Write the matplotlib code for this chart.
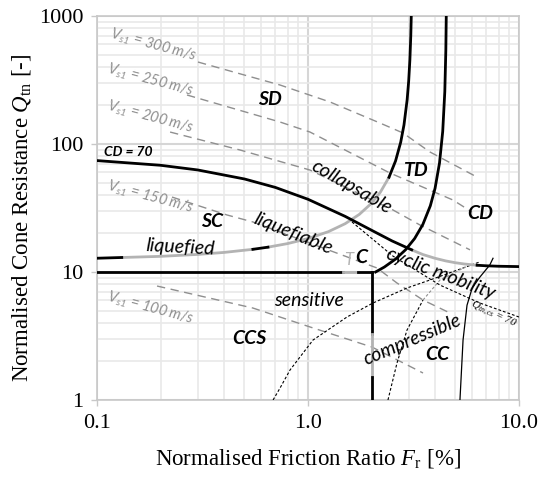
import matplotlib
matplotlib.use('Agg')
import matplotlib.pyplot as plt
from matplotlib.ticker import FixedLocator, FixedFormatter, LogLocator, NullFormatter

plt.rcParams['mathtext.fontset'] = 'custom'
plt.rcParams['mathtext.rm'] = 'Liberation Serif'
plt.rcParams['mathtext.it'] = 'Liberation Serif:italic'
plt.rcParams['mathtext.sf'] = 'Lato:italic'

# ---- boundary curves (Fr [%], Qtn) ----
# CD = 70 line
cd70_fr_a = [0.1, 0.2, 0.3, 0.5, 0.7, 1.0, 1.5, 2.0, 2.5, 3.1]
cd70_q_a = [74.2, 68.2, 62.7, 53.3, 45.8, 37.0, 27.2, 21.2, 17.5, 14.9]
cd70_fr_b = [3.1, 3.5, 4.0, 4.5, 5.0, 5.5, 6.33]
cd70_q_b = [14.9, 13.7, 12.8, 12.2, 11.81, 11.55, 11.29]
cd70_fr_c = [6.33, 7.0, 8.0, 10.0]
cd70_q_c = [11.29, 11.18, 11.09, 11.02]

# IB = 32 (sand-like / transitional)
ib32_fr_a = [0.1, 0.131]
ib32_q_a = [12.81, 12.98]
ib32_fr_b = [0.131, 0.2, 0.3, 0.4, 0.548]
ib32_q_b = [12.98, 13.25, 13.72, 14.22, 15.04]
ib32_fr_c = [0.548, 0.646]
ib32_q_c = [15.04, 15.63]
ib32_fr_d = [0.646, 0.8, 1.0, 1.25, 1.5, 1.75, 2.0, 2.2, 2.42]
ib32_q_d = [15.63, 16.67, 18.24, 20.67, 23.85, 28.18, 34.44, 41.9, 54.96]
ib32_fr_e = [2.42, 2.6, 2.75, 2.85, 2.95, 3.0, 3.04, 3.07, 3.086]
ib32_q_e = [54.96, 73.8, 103.3, 140.9, 221.4, 310, 456, 704.5, 1000]

# IB = 22 (transitional / clay-like)
ib22_fr = [2.09, 2.3, 2.6, 2.9, 3.2, 3.5, 3.8, 4.0, 4.2, 4.35, 4.45, 4.5, 4.521]
ib22_q = [10.0, 10.93, 12.62, 14.92, 18.24, 23.48, 32.93, 45.0, 71.05, 125.6, 257, 540, 1000]

# CCS box
ccs_h_fr_a = [0.1, 1.465]
ccs_h_fr_b = [1.465, 1.726]
ccs_h_fr_c = [1.726, 2.0]
ccs_h_q = [10.0, 10.0]
ccs_v_fr = [2.0, 2.0]
ccs_v_q_a = [10.0, 3.3]
ccs_v_q_b = [3.3, 1.5]
ccs_v_q_c = [1.5, 1.0]

# thin curves
sens_fr = [0.683, 0.737, 0.822, 1.056, 1.53, 2.03, 2.946, 3.786, 6.53]
sens_q = [1.0, 1.24, 1.716, 2.94, 4.45, 5.72, 7.5, 8.66, 12.0]
comp_fr_a = [2.393, 2.641, 2.946, 3.508]
comp_q_a = [1.0, 1.945, 3.52, 6.04]
comp_fr_b = [3.508, 4.223, 5.86]
comp_q_b = [6.04, 8.66, 11.4]
solid_fr = [5.25, 5.43, 5.67, 6.0, 6.53, 7.27, 7.53]
solid_q = [1.0, 2.94, 5.5, 7.5, 9.14, 11.34, 12.8]
qcs70_fr = [1.616, 2.529, 4.223, 6.53, 10.0]
qcs70_q = [24.6, 13.3, 7.9, 5.72, 4.45]

# shear wave velocity lines
vs_values = [300, 250, 200, 150, 100]
vs_fr = [
    [0.301, 0.737, 1.271, 2.19, 2.818, 3.786, 6.19],
    [0.267, 0.737, 1.022, 2.447, 4.866, 5.985],
    [0.222, 0.476, 1.022, 2.529, 3.393, 5.86],
    [0.2267, 0.413, 0.548, 2.123, 2.641, 3.508, 4.71],
    [0.1925, 0.548, 1.022, 2.011, 3.508],
]
vs_q = [
    [437, 289, 213, 146, 122, 86.6, 56.2],
    [241.5, 148.5, 124, 59.3, 36.5, 29.4],
    [124, 89.8, 62.6, 30.5, 23.3, 14.9],
    [38.5, 27.9, 24.6, 10.75, 8.2, 6.04, 4.78],
    [7.77, 5.23, 3.72, 2.59, 1.625],
]
vs_label_fr = [0.184, 0.178, 0.178, 0.178, 0.178]
vs_label_q = [593, 316, 162.5, 38.5, 5.23]

BLACK = 'black'
GRAY = '#b3b3b3'
VS_GRAY = '#8f8f8f'
LW = 2.0

fig = plt.figure(figsize=(5.45, 4.78), dpi=100)
ax = fig.add_axes([0.178, 0.1632, 0.7743, 0.8033])
ax.set_xscale('log')
ax.set_yscale('log')
ax.set_xlim(0.1, 10)
ax.set_ylim(1, 1000)

ax.xaxis.set_major_locator(FixedLocator([0.1, 1, 10]))
ax.xaxis.set_major_formatter(FixedFormatter(['0.1', '1.0', '10.0']))
ax.yaxis.set_major_locator(FixedLocator([1, 10, 100, 1000]))
ax.yaxis.set_major_formatter(FixedFormatter(['1', '10', '100', '1000']))
for axis in (ax.xaxis, ax.yaxis):
    axis.set_minor_locator(LogLocator(base=10, subs=range(2, 10)))
    axis.set_minor_formatter(NullFormatter())
ax.grid(which='major', color='#d6d6d6', lw=1.5, zorder=0)
ax.grid(which='minor', color='#e9e9e9', lw=1.2, zorder=0)
ax.set_axisbelow(True)
for sp in ax.spines.values():
    sp.set_color('#c8c8c8')
    sp.set_linewidth(1.2)
ax.tick_params(which='major', length=4, width=1, color='#c8c8c8', pad=6,
               labelsize=16, labelfontfamily='Liberation Serif')
ax.tick_params(which='minor', length=0)

# Vs1 lines
for fr, q in zip(vs_fr, vs_q):
    ax.plot(fr, q, color=VS_GRAY, lw=1.0, dashes=(6, 4), zorder=2)
for v, fr, q in zip(vs_values, vs_label_fr, vs_label_q):
    ax.text(fr, q, r'$\mathsf{V_{s1}}$ = %d m/s' % v, color=VS_GRAY, fontsize=10.5,
            family='Lato', style='italic', rotation=-15, ha='center', va='center')

# thin curves
ax.plot(sens_fr, sens_q, color=BLACK, lw=0.8, dashes=(2.5, 1.8), zorder=3)
ax.plot(comp_fr_a, comp_q_a, color=BLACK, lw=0.8, dashes=(2.5, 1.8), zorder=3)
ax.plot(comp_fr_b, comp_q_b, color=VS_GRAY, lw=0.8, dashes=(2.5, 1.8), zorder=3)
ax.plot(solid_fr, solid_q, color=BLACK, lw=0.9, zorder=3)
ax.plot(qcs70_fr, qcs70_q, color=BLACK, lw=0.8, dashes=(2.5, 1.8), zorder=3)

# main boundaries
ax.plot(cd70_fr_a, cd70_q_a, color=BLACK, lw=LW, zorder=5)
ax.plot(cd70_fr_b, cd70_q_b, color=GRAY, lw=LW, zorder=4)
ax.plot(cd70_fr_c, cd70_q_c, color=BLACK, lw=LW, zorder=5)
ax.plot(ib32_fr_a, ib32_q_a, color=BLACK, lw=LW, zorder=5)
ax.plot(ib32_fr_b, ib32_q_b, color=GRAY, lw=LW, zorder=4)
ax.plot(ib32_fr_c, ib32_q_c, color=BLACK, lw=LW, zorder=5)
ax.plot(ib32_fr_d, ib32_q_d, color=GRAY, lw=LW, zorder=4)
ax.plot(ib32_fr_e, ib32_q_e, color=BLACK, lw=LW, zorder=5)
ax.plot(ib22_fr, ib22_q, color=BLACK, lw=LW, zorder=5)
ax.plot(ccs_h_fr_a, ccs_h_q, color=BLACK, lw=LW, zorder=5)
ax.plot(ccs_h_fr_b, ccs_h_q, color=GRAY, lw=LW, zorder=5)
ax.plot(ccs_h_fr_c, ccs_h_q, color=BLACK, lw=LW, zorder=5)
ax.plot(ccs_v_fr, ccs_v_q_a, color=BLACK, lw=LW, zorder=5)
ax.plot(ccs_v_fr, ccs_v_q_b, color=GRAY, lw=LW, zorder=5)
ax.plot(ccs_v_fr, ccs_v_q_c, color=BLACK, lw=LW, zorder=5)

# zone labels
bold = dict(family='Lato', style='italic', weight='bold', fontsize=14,
            ha='center', va='center', zorder=6)
for txt, fr, q in [('SD', 0.66, 221), ('TD', 3.25, 62.6), ('CD', 6.53, 28.9),
                   ('SC', 0.351, 25.0), ('CCS', 0.525, 3.05), ('CC', 4.09, 2.25)]:
    ax.text(fr, q, txt, **bold)
ax.text(1.783, 12.9, 'C', **bold)
ax.text(1.564, 12.4, 'T', color=GRAY, family='Lato', style='italic', fontsize=12,
        ha='center', va='center', zorder=6)
ax.text(0.108, 86.6, 'CD = 70', family='Lato', style='italic', weight='bold',
        fontsize=10, ha='left', va='center', zorder=6)

ital = dict(family='Lato', style='italic', fontsize=14, ha='center', va='center', zorder=6)
ax.text(0.247, 15.7, 'liquefied', rotation=-3, **ital)
ax.text(0.849, 19.8, 'liquefiable', rotation=-22, **ital)
ax.text(1.6, 46.1, 'collapsable', rotation=-30, **ital)
ax.text(4.27, 9.64, 'cyclic mobility', rotation=-21, **ital)
ax.text(1.01, 6.04, 'sensitive', **ital)
ax.text(3.11, 2.95, 'compressible', rotation=23, **ital)
ax.text(7.53, 4.7, r'$Q_{tn,cs}$ = 70', family='Liberation Serif', style='italic',
        fontsize=8, rotation=-25, ha='center', va='center', zorder=6)

fig.text(308 / 545, 1 - 458 / 478, r'Normalised Friction Ratio $F_\mathrm{r}$ [%]',
         family='Liberation Serif', fontsize=16.5, ha='center', va='center')
fig.text(22 / 545, 1 - 218 / 478, r'Normalised Cone Resistance $Q_\mathrm{tn}$ [-]',
         family='Liberation Serif', fontsize=16.5, ha='center', va='center', rotation=90)

fig.savefig('out.png', dpi=100)
